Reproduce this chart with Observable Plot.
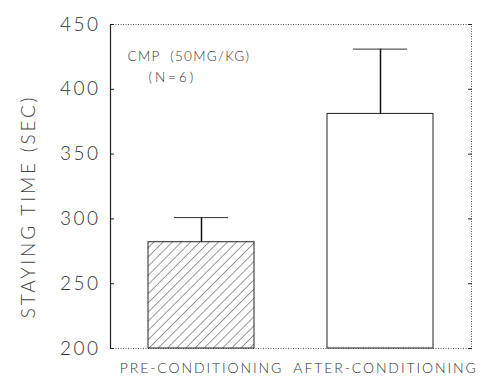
<!DOCTYPE html>
<html><head><meta charset="utf-8">
<script src="https://cdn.jsdelivr.net/npm/d3@7"></script>
<script src="https://cdn.jsdelivr.net/npm/@observablehq/plot@0.6"></script>
<style>
body{margin:0;background:#fff}
.chart text{font-weight:300}
.chart g[aria-label="x-axis tick label"] text{letter-spacing:1.9px}
.chart g[aria-label="y-axis tick label"] text{letter-spacing:2.5px}
.chart .note1 text{letter-spacing:1.3px}
.chart .note2 text{letter-spacing:3px}
.chart .ylab text{letter-spacing:2.8px}
</style>
</head><body><div id="chart"></div>
<script>
const categories = ["PRE-CONDITIONING", "AFTER-CONDITIONING"];
const means = [282, 381];
const errors = [19, 50];
const fills = ["url(#hatch)", "white"];
const yTicks = [200, 250, 300, 350, 400, 450];
const yLabel = "STAYING TIME (SEC)";
const note1 = "CMP  (50MG/KG)";
const note2 = "(N=6)";

const data = categories.map((c, i) => ({cat: c, mean: means[i], err: errors[i], fill: fills[i]}));
const font = "Lato, 'DejaVu Sans', sans-serif";

const plot = Plot.plot({
  width: 484, height: 380,
  marginLeft: 110, marginRight: 13, marginTop: 24, marginBottom: 32,
  className: "chart",
  style: {fontFamily: font, color: "#333", background: "white"},
  x: {domain: categories, paddingInner: 0.41, paddingOuter: 0.21, label: null},
  y: {domain: [200, 450], label: null},
  color: {type: "identity"},
  marks: [
    Plot.frame({stroke: "#555", strokeDasharray: "1,1.5"}),
    Plot.frame({anchor: "left", stroke: "#222", strokeWidth: 1.2}),
    Plot.barY(data, {x: "cat", y1: 200, y2: "mean", fill: "fill", stroke: "#222", strokeWidth: 1}),
    Plot.ruleX(data, {x: "cat", y1: "mean", y2: d => d.mean + d.err, stroke: "#111", strokeWidth: 1.5}),
    Plot.tickY(data, {x: "cat", y: d => d.mean + d.err, insetLeft: 26, insetRight: 26, stroke: "#333", strokeWidth: 1}),
    Plot.axisY({ticks: yTicks, tickSize: -4, tickFormat: () => "", stroke: "#222"}),
    Plot.axisY({anchor: "right", ticks: yTicks, tickSize: -4, tickFormat: () => "", stroke: "#222"}),
    Plot.axisY({ticks: yTicks, tickSize: 0, tickPadding: 10, fontSize: 19, label: null, fill: "#333"}),
    Plot.axisX({ticks: [categories[0]], tickSize: 0, tickPadding: 15, fontSize: 14, label: null, fill: "#333"}),
    Plot.axisX({ticks: [categories[1]], tickSize: 0, tickPadding: 15, fontSize: 14, label: null, fill: "#333", dx: 5}),
    Plot.text([yLabel], {frameAnchor: "left", textAnchor: "middle", rotate: -90, dx: -82, dy: 20, fontSize: 19, fill: "#444", className: "ylab"}),
    Plot.text([note1], {frameAnchor: "top-left", textAnchor: "start", dx: 17, dy: 27, fontSize: 13.5, fill: "#333", className: "note1"}),
    Plot.text([note2], {frameAnchor: "top-left", textAnchor: "start", dx: 38, dy: 48, fontSize: 13.5, fill: "#333", className: "note2"})
  ]
});

const svg = d3.select(plot);
const defs = svg.insert("defs", ":first-child");
const pat = defs.append("pattern").attr("id", "hatch").attr("patternUnits", "userSpaceOnUse")
  .attr("width", 6.5).attr("height", 6.5).attr("patternTransform", "rotate(45)");
pat.append("rect").attr("width", 6.5).attr("height", 6.5).attr("fill", "white");
pat.append("line").attr("x1", 0).attr("y1", 0).attr("x2", 0).attr("y2", 6.5).attr("stroke", "#333").attr("stroke-width", 1);

document.getElementById("chart").append(plot);
</script>
</body></html>
